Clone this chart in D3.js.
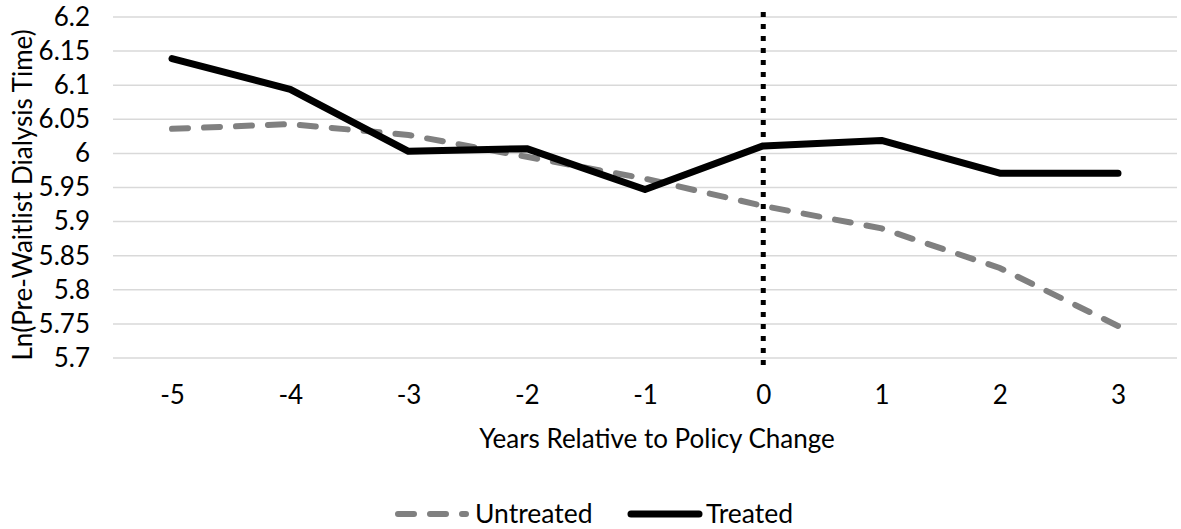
<!DOCTYPE html>
<html><head><meta charset="utf-8">
<script src="https://cdn.jsdelivr.net/npm/d3@7"></script>
<style>body{margin:0;background:#fff}svg{display:block}text{font-family:Lato,"Open Sans",sans-serif;fill:#000}</style>
</head><body><svg id="c" width="1181" height="529"></svg>
<script>
const years = [-5,-4,-3,-2,-1,0,1,2,3];
const untreated = [6.036,6.043,6.027,5.995,5.963,5.923,5.890,5.832,5.747];
const treated = [6.139,6.094,6.003,6.007,5.947,6.011,6.019,5.971,5.971];
const yTicks = [5.7,5.75,5.8,5.85,5.9,5.95,6,6.05,6.1,6.15,6.2];
const policyYear = 0;

const svg = d3.select("#c");
const x = d3.scalePoint().domain(years).range([172,1118]);
const y = d3.scaleLinear().domain([5.7,6.2]).range([358,17]);
const FS = 26;

svg.append("g").selectAll("line").data(yTicks).join("line")
  .attr("x1",113).attr("x2",1177).attr("y1",d=>y(d)).attr("y2",d=>y(d))
  .attr("stroke","#d9d9d9").attr("stroke-width",1.5);

const ya = svg.append("g").attr("transform","translate(90,0)")
  .call(d3.axisLeft(y).tickValues(yTicks).tickSize(0).tickPadding(0).tickFormat(d=>String(+d.toFixed(2))));
ya.select(".domain").remove();
ya.selectAll("text").attr("font-size",FS).attr("font-family","Lato,'Open Sans',sans-serif");

const xa = svg.append("g").attr("transform","translate(0,386)")
  .call(d3.axisBottom(x).tickSize(0).tickPadding(0));
xa.select(".domain").remove();
xa.selectAll("text").attr("font-size",FS).attr("font-family","Lato,'Open Sans',sans-serif");

svg.append("text").attr("x",657).attr("y",448).attr("text-anchor","middle").attr("font-size",26)
  .text("Years Relative to Policy Change");
svg.append("text").attr("transform","translate(32,195) rotate(-90)").attr("text-anchor","middle").attr("font-size",26)
  .text("Ln(Pre-Waitlist Dialysis Time)");

const line = d3.line().x((d,i)=>x(years[i])).y(d=>y(d));

svg.append("path").datum(untreated).attr("d",line).attr("fill","none")
  .attr("stroke","#808080").attr("stroke-width",6).attr("stroke-linecap","round")
  .attr("stroke-dasharray","16 16");
svg.append("path").datum(treated).attr("d",line).attr("fill","none")
  .attr("stroke","#000").attr("stroke-width",7).attr("stroke-linecap","round").attr("stroke-linejoin","round");

svg.append("line").attr("x1",x(policyYear)).attr("x2",x(policyYear)).attr("y1",12).attr("y2",366)
  .attr("stroke","#000").attr("stroke-width",5).attr("stroke-dasharray","5 7");

const lg = svg.append("g");
lg.append("line").attr("x1",398).attr("x2",466).attr("y1",514).attr("y2",514)
  .attr("stroke","#808080").attr("stroke-width",6).attr("stroke-linecap","round").attr("stroke-dasharray","16 16");
lg.append("text").attr("x",475).attr("y",523).attr("font-size",26.5).text("Untreated");
lg.append("line").attr("x1",631).attr("x2",699).attr("y1",514).attr("y2",514)
  .attr("stroke","#000").attr("stroke-width",7).attr("stroke-linecap","round");
lg.append("text").attr("x",706).attr("y",523).attr("font-size",26.5).text("Treated");
</script></body></html>
